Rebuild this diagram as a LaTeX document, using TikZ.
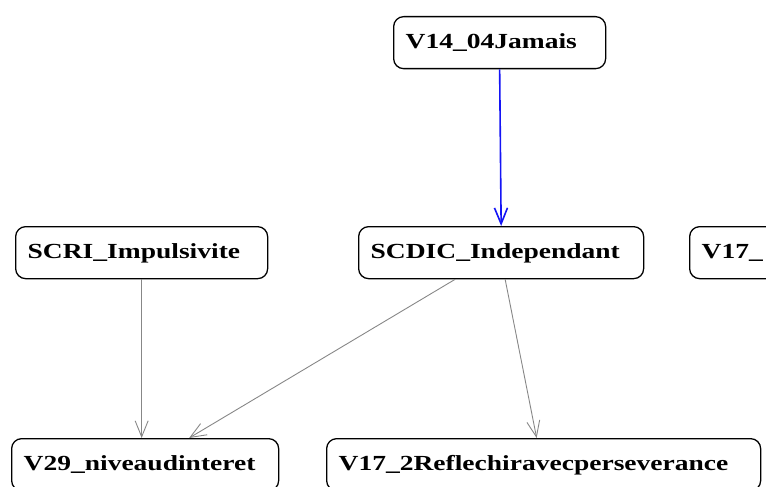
\documentclass[tikz,border=0pt]{standalone}
\usepackage{fontspec}
\newfontfamily\boxfont[FakeStretch=1.28]{Liberation Serif}
\usepackage{xcolor}
\usepackage{tikz}
\usetikzlibrary{arrows.meta}

\definecolor{edgegray}{RGB}{135,135,135}
\definecolor{edgeblue}{RGB}{20,20,245}

\begin{document}
\begin{tikzpicture}[x=1pt,y=-1pt,
  varbox/.style={draw=black,line width=1.3pt,rounded corners=10pt,anchor=north west,
    minimum height=52pt,inner xsep=12pt,align=left,text height=15pt,text depth=4pt,
    font=\boxfont\bfseries\fontsize{21.5}{24}\selectfont},
  link/.style={draw=edgegray,line width=0.9pt,-{Straight Barb[length=16pt,width=13pt]}},
  bluelink/.style={draw=edgeblue,line width=1.6pt,-{Straight Barb[length=16pt,width=13pt]}}]
\clip (0,0) rectangle (766,487);

\node[varbox,text width=188pt] (jamais) at (393,16) {V14\_04Jamais};

\node[varbox,text width=228pt] (impuls) at (15,226) {SCRI\_Impulsivite};
\node[varbox,text width=261pt] (indep) at (358,226) {SCDIC\_Independant};
\node[varbox,text width=276pt] (v17) at (689,226) {V17\_};

\node[varbox,text width=243pt] (niveau) at (11,438) {V29\_niveaudinteret};
\node[varbox,text width=410pt] (reflechir) at (326,438) {V17\_2Reflechiravecperseverance};

\draw[bluelink] (jamais.south) -- (indep.north);
\draw[link] (impuls.south) -- (impuls.south |- niveau.north);
\draw[link] ([xshift=-46pt]indep.south) -- ([xshift=44pt]niveau.north);
\draw[link] ([xshift=4pt]indep.south) -- ([xshift=-7pt]reflechir.north);
\end{tikzpicture}
\end{document}
